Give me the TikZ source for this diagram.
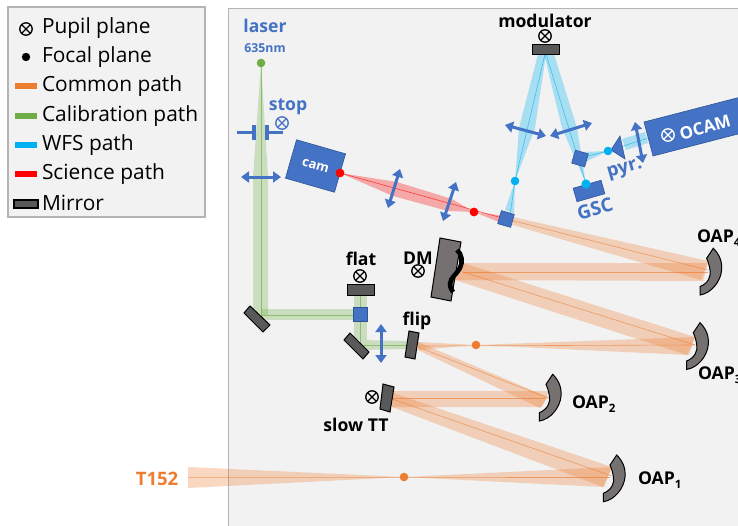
\documentclass[tikz,border=0pt]{standalone}
\usepackage{fontspec}
\setmainfont{Open Sans}
\usetikzlibrary{arrows.meta}
\definecolor{panel}{HTML}{F2F2F2}
\definecolor{edge}{HTML}{B4B4B4}
\definecolor{cblue}{HTML}{4472C4}
\definecolor{cdark}{HTML}{2F5597}
\definecolor{corange}{HTML}{ED7D31}
\definecolor{cgreen}{HTML}{70AD47}
\definecolor{ccyan}{HTML}{00B0F0}
\definecolor{cred}{HTML}{FF0000}
\definecolor{cmirror}{HTML}{595959}
\definecolor{cdm}{HTML}{767171}
\newcommand{\oapsub}[1]{OAP\raisebox{-3.5pt}{\fontsize{11.5}{12}\bfseries\selectfont #1}}
\tikzset{
  x=1pt,y=-1pt,
  every node/.style={inner sep=0pt,outer sep=0pt},
  legendtext/.style={anchor=west,font=\fontsize{20.9}{22}\selectfont,text=black},
  legendbar/.style={line width=5.5pt},
  band/.style={fill=#1,fill opacity=.3,draw=none},
  ray/.style={draw=#1,line width=.6pt,draw opacity=.65},
  lensarrow/.style={draw=cblue,line width=3pt,{Triangle[length=8pt,width=11pt]}-{Triangle[length=8pt,width=11pt]}},
  mirror/.style={fill=cmirror,draw=black,line width=1pt},
  bluebox/.style={fill=cblue,draw=cdark,line width=.6pt},
  lbl/.style={font=\fontsize{17.6}{19}\bfseries\selectfont,text=black},
  bluelbl/.style={font=\fontsize{17.6}{19}\bfseries\selectfont,text=cblue},
  ot/.pic={\draw[line width=1.3pt,pic actions] (0,0) circle (6.2);
           \draw[line width=1.3pt,pic actions] (-4.4,-4.4)--(4.4,4.4) (-4.4,4.4)--(4.4,-4.4);},
  oap/.pic={\draw[fill=cdm,draw=black,line width=1pt] (0,0) .. controls (6,6) and (9,13) .. (8.3,21.7)
      .. controls (7.5,33) and (-2,45) .. (-13.3,46.7) -- (-13.3,38.3)
      .. controls (-5,35) and (-2,28) .. (-3.3,21.7) .. controls (-4,17) and (-5,14) .. (-6.7,10) -- cycle;},
}
\begin{document}
\begin{tikzpicture}
\useasboundingbox (0,0) rectangle (738,525);
\clip (0,0) rectangle (738,525);
\fill[white] (0,0) rectangle (738,525);
% panels
\draw[fill=panel,draw=edge,line width=1.8pt] (8,7) rectangle (205,217);
\draw[fill=panel,draw=edge,line width=1.8pt] (745,8.5) -- (228.5,8.5) -- (228.5,535) -- (745,535) -- cycle;
% legend
\pic[draw=black] at (26,29) {ot};
\fill[black] (26,57) circle (4.2);
\draw[legendbar,corange] (15,86) -- (37,86);
\draw[legendbar,cgreen] (15,116) -- (37,116);
\draw[legendbar,ccyan] (15,145) -- (37,145);
\draw[legendbar,cred] (15,174) -- (37,174);
\node[draw=black,fill=cmirror,line width=1.2pt,minimum width=24pt,minimum height=8pt] (lm) at (26,204) {};
\node[legendtext] (l1) at (42,28) {Pupil plane};
\node[legendtext] (l2) at (42,57) {Focal plane};
\node[legendtext] (l3) at (42,86) {Common path};
\node[legendtext] (l4) at (42,116) {Calibration path};
\node[legendtext] (l5) at (42,145) {WFS path};
\node[legendtext] (l6) at (42,174) {Science path};
\node[legendtext] (l7) at (42,203) {Mirror};
% orange beams
\fill[band=corange] (188,467) -- (404,477) -- (188,488) -- cycle;
\draw[ray=corange] (188,477) -- (404,477) -- (610,477);
\fill[band=corange] (404,477) -- (612,467) -- (604,487) -- cycle;
\fill[band=corange] (393,393) -- (612,467) -- (603,487) -- (392,407) -- cycle;
\draw[ray=corange] (392,399) -- (612,476);
\fill[band=corange] (392,391) -- (549,391) -- (542,407) -- (392,407) -- cycle;
\draw[ray=corange] (392,398) -- (546,398);
\fill[band=corange] (418,342) -- (548,397) -- (540,408) -- (418,350) -- cycle;
\draw[ray=corange] (418,347) -- (548,398);
\fill[band=corange] (418,342) -- (476,345) -- (418,350) -- cycle;
\draw[ray=corange] (418,346) -- (695,345);
\fill[band=corange] (476,345) -- (695,337) -- (689,355) -- cycle;
\fill[band=corange] (463,263) -- (695,337) -- (687,355) -- (455,280) -- cycle;
\draw[ray=corange] (463,272) -- (695,345);
\fill[band=corange] (463,263) -- (708,263) -- (703,281) -- (455,280) -- cycle;
\draw[ray=corange] (463,272) -- (708,272);
\fill[band=corange] (513,217) -- (708,261) -- (701,280) -- (511,224.5) -- cycle;
\draw[ray=corange] (506,219) -- (708,270);
% red beam
\fill[band=cred] (340,173) -- (397,182) -- (452,199) -- (474,212) -- (448,211) -- (393,196) -- cycle;
\fill[band=cred] (474,212) -- (507,216) -- (504,224) -- cycle;
\draw[ray=cred] (340,173) -- (506,219);
% green beams
\fill[band=cgreen] (261,63) -- (268,177) -- (268,315) -- (253,315) -- (253,177) -- cycle;
\draw[ray=cgreen] (261,63) -- (261,315) -- (360,315);
\fill[band=cgreen] (261,309) -- (354,309) -- (354,320) -- (261,320) -- cycle;
\fill[band=cgreen] (354,295) -- (367,295) -- (367,340) -- (354,340) -- cycle;
\draw[ray=cgreen] (360,295) -- (360,345) -- (410,345);
\fill[band=cgreen] (360,340) -- (408,341) -- (408,349) -- (360,350) -- cycle;
% blue beams
\fill[band=ccyan] (538,54) -- (546,54) -- (535,128) -- (515,181) -- (519,128) -- cycle;
\fill[band=ccyan] (515,181) -- (514,213) -- (505,210) -- cycle;
\draw[ray=ccyan] (545,54) -- (515,181) -- (510,215);
\fill[band=ccyan] (544,54) -- (554,54) -- (577,128) -- (586,184) -- (562,128) -- cycle;
\draw[ray=ccyan] (546,54) -- (586,184);
\fill[band=ccyan] (582,152) -- (608,151) -- (585,162) -- cycle;
\draw[ray=ccyan] (580,158) -- (608,151) -- (648,138);
\fill[band=ccyan] (622,139) -- (645,132) -- (648,143) -- (626,150) -- cycle;
% stop
\draw[cblue,line width=3.4pt] (237,132.5) -- (254,132.5) (254,125) -- (254,140);
\draw[cblue,line width=3.4pt] (283,132.5) -- (267,132.5) (267,125) -- (267,140);
% lenses
\draw[lensarrow] (241,177) -- (281,177);
\draw[lensarrow] (400,169) -- (388,208);
\draw[lensarrow] (456,182) -- (443,221);
\draw[lensarrow] (505,125) -- (546,136);
\draw[lensarrow] (550,136) -- (592,123);
\draw[lensarrow] (635,122) -- (643,163);
\draw[lensarrow] (381,324) -- (381,363);
% cam
\node[bluebox,rotate=-16,minimum width=51pt,minimum height=40pt,text=white,font=\fontsize{13}{14}\bfseries\selectfont] (cam) at (315.5,166) {cam};
% beam splitters
\node[bluebox,rotate=-16,minimum size=13.5pt] (bs1) at (506,219) {};
\node[bluebox,rotate=-16,minimum size=13.5pt] (bs2) at (580,158.5) {};
\node[bluebox,minimum size=14pt] (bs3) at (360,314) {};
% GSC
\node[bluebox,rotate=16,minimum width=29pt,minimum height=14pt] (gsc) at (589,191) {};
% OCAM
\fill[cblue,draw=cdark,line width=.6pt] (644,122) -- (760,92) -- (769,126) -- (653,156) -- cycle;
\pic[draw=white] at (668,135) {ot};
\node[text=white,rotate=16,font=\fontsize{17}{18}\bfseries\selectfont] (ocam) at (705,127) {OCAM};
% pyramid
\fill[cblue,draw=cdark,line width=.6pt] (611,150) -- (620,136) -- (625,159) -- cycle;
% mirrors
\node[mirror,minimum width=27pt,minimum height=10pt] (modm) at (545.5,49) {};
\node[mirror,minimum width=27pt,minimum height=11pt] (flatm) at (360.5,289.5) {};
\draw[mirror] (250,306) -- (270,325) -- (263,332) -- (244,313) -- cycle;
\draw[mirror] (350,333) -- (369,352) -- (363,359) -- (344,340) -- cycle;
\draw[mirror] (409,331) -- (419,333) -- (415,359) -- (405,357) -- cycle;
\draw[mirror] (383,384) -- (394,387) -- (390,412) -- (380,409) -- cycle;
% DM
\draw[fill=cdm,draw=black,line width=1pt] (440,238) -- (461,242) -- (451,301) -- (431,297) -- cycle;
\draw[black,line width=4.6pt] (457,250) .. controls (462,254) and (463,262) .. (460,268) .. controls (457,274) and (450,278) .. (450,284) .. controls (450,288) and (452,290) .. (453,292);
% OAPs
\pic at (713.3,248.3) {oap};
\pic at (700,322.7) {oap};
\pic at (552.7,374.3) {oap};
\pic at (616.7,455) {oap};
% dots
\fill[cgreen] (261,63) circle (4.3);
\fill[cred] (340,173) circle (4.4);
\fill[cred] (474,212) circle (4.4);
\fill[ccyan] (515,181) circle (4.3);
\fill[ccyan] (586,184) circle (4.6);
\fill[ccyan] (608,151) circle (4.3);
\fill[corange] (476,345) circle (4.3);
\fill[corange] (404,477) circle (4.3);
% otimes
\pic[draw=cblue] at (282,123) {ot};
\pic[draw=black] at (545,36) {ot};
\pic[draw=black] at (360,276) {ot};
\pic[draw=black] at (418,271) {ot};
\pic[draw=black] at (372,397) {ot};
% labels
\node[bluelbl] (laser) at (265,26) {laser};
\node[text=cblue,font=\fontsize{12.3}{14}\bfseries\selectfont] (nm) at (265,48) {635nm};
\node[bluelbl] (stop) at (288,107) {stop};
\node[lbl] (modl) at (545,21) {modulator};
\node[lbl] (flat) at (361,259) {flat};
\node[lbl] (dm) at (418,258) {DM};
\node[lbl] (flip) at (417,321) {flip};
\node[lbl] (slow) at (356,425) {slow TT};
\node[bluelbl,rotate=16,font=\fontsize{19}{20}\bfseries\selectfont] (gscl) at (595,209) {GSC};
\node[bluelbl,rotate=16,font=\fontsize{18.5}{20}\bfseries\selectfont] (pyr) at (625,170) {pyr.};
\node[lbl,anchor=west] (o4) at (697,238) {\oapsub{4}};
\node[lbl,anchor=west] (o3) at (698,375) {\oapsub{3}};
\node[lbl,anchor=west] (o2) at (572,404) {\oapsub{2}};
\node[lbl,anchor=west] (o1) at (638,480) {\oapsub{1}};
\node[text=corange,font=\fontsize{18.5}{20}\bfseries\selectfont] (t152) at (157,479) {T152};
\end{tikzpicture}
\end{document}
